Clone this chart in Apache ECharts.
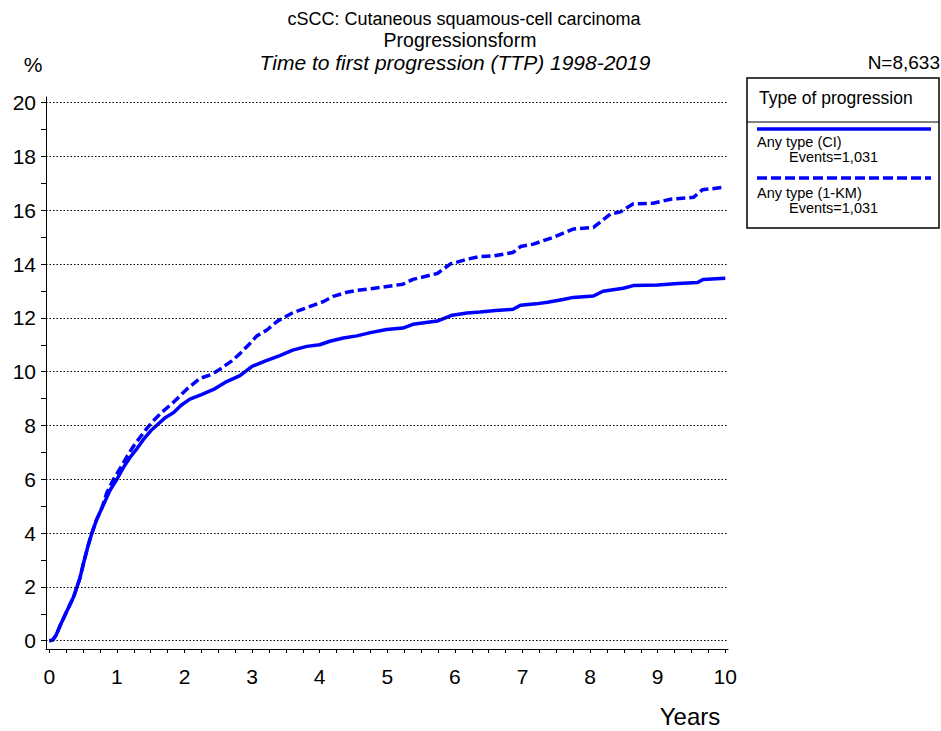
<!DOCTYPE html>
<html>
<head>
<meta charset="utf-8">
<script src="https://cdn.jsdelivr.net/npm/echarts@6/dist/echarts.min.js"></script>
<style>
html,body{margin:0;padding:0;background:#fff;}
#chart{width:941px;height:731px;}
</style>
</head>
<body>
<div id="chart"></div>
<script>
// ---- data (time in years, cumulative % progressed) ----
var ciName = 'Any type (CI)';
var kmName = 'Any type (1-KM)';
var eventsText = 'Events=1,031';

var ciTime = [0,0.05,0.1,0.16,0.25,0.36,0.45,0.5,0.57,0.63,0.7,0.78,0.9,1.0,1.1,1.19,1.3,1.39,1.5,1.59,1.72,1.84,1.95,2.08,2.25,2.43,2.6,2.82,3.0,3.2,3.41,3.6,3.81,4.0,4.15,4.35,4.55,4.75,4.99,5.23,5.38,5.74,5.96,6.18,6.37,6.6,6.86,6.97,7.2,7.37,7.6,7.75,8.05,8.19,8.49,8.64,9.0,9.3,9.59,9.67,10.0];
var ciValue = [0,0.02,0.2,0.56,1.05,1.63,2.3,2.82,3.5,4.0,4.5,4.94,5.6,6.0,6.45,6.8,7.15,7.47,7.8,8.01,8.3,8.48,8.75,8.98,9.15,9.34,9.6,9.85,10.2,10.4,10.6,10.8,10.94,11.0,11.13,11.25,11.33,11.45,11.57,11.62,11.76,11.88,12.1,12.18,12.22,12.27,12.32,12.47,12.52,12.58,12.68,12.76,12.81,12.99,13.1,13.2,13.22,13.28,13.31,13.43,13.47];

var kmTime = [0,0.05,0.1,0.16,0.25,0.36,0.45,0.5,0.57,0.63,0.7,0.78,0.85,0.95,1.05,1.15,1.24,1.34,1.44,1.55,1.66,1.84,2.03,2.23,2.4,2.53,2.7,2.82,2.95,3.07,3.22,3.37,3.61,3.91,4.05,4.2,4.4,4.55,4.75,4.89,5.23,5.38,5.74,5.93,6.18,6.37,6.57,6.86,6.97,7.16,7.45,7.75,8.05,8.15,8.3,8.45,8.64,8.93,9.19,9.53,9.66,9.97,10.0];
var kmValue = [0,0.02,0.2,0.56,1.05,1.63,2.3,2.82,3.5,4.0,4.5,4.94,5.5,6.0,6.41,6.85,7.21,7.55,7.88,8.2,8.48,8.87,9.34,9.75,9.9,10.1,10.4,10.67,11.0,11.33,11.55,11.87,12.2,12.47,12.6,12.8,12.95,13.02,13.08,13.13,13.25,13.43,13.65,14.0,14.18,14.28,14.3,14.43,14.65,14.74,14.99,15.3,15.36,15.56,15.86,15.94,16.24,16.26,16.41,16.48,16.76,16.85,16.85];

var yLabelVals = [0,2,4,6,8,10,12,14,16,18,20];
var yTickVals = [0,1,2,3,4,5,6,7,8,9,10,11,12,13,14,15,16,17,18,19,20];
var xLabelVals = [0,1,2,3,4,5,6,7,8,9,10];
var xTickVals = [0,0.25,0.5,0.75,1,1.25,1.5,1.75,2,2.25,2.5,2.75,3,3.25,3.5,3.75,4,4.25,4.5,4.75,5,5.25,5.5,5.75,6,6.25,6.5,6.75,7,7.25,7.5,7.75,8,8.25,8.5,8.75,9,9.25,9.5,9.75,10];

var titleLines = ['cSCC: Cutaneous squamous-cell carcinoma','Progressionsform','Time to first progression (TTP) 1998-2019'];
var legendTitle = 'Type of progression';
var nText = 'N=8,633';
var yName = '%';
var xName = 'Years';

// ---- chart ----
function pairs(t, v){ return t.map(function(x,i){ return [x, v[i]]; }); }
var FONT = '"Liberation Sans", Arial, sans-serif';
var BLUE = '#0000FF';

var chart = echarts.init(document.getElementById('chart'), null, {renderer:'svg'});
chart.setOption({
  animation:false,
  backgroundColor:'#fff',
  grid:{left:46,right:213,top:97,bottom:82,containLabel:false},
  xAxis:{
    type:'value', min:-0.049, max:10.04,
    axisLine:{show:true,onZero:false,lineStyle:{color:'#000',width:1}},
    axisTick:{show:true,customValues:xTickVals,length:4,lineStyle:{color:'#000',width:1}},
    axisLabel:{show:true,customValues:xLabelVals,margin:17,fontSize:21,color:'#000',fontFamily:FONT},
    splitLine:{show:false}
  },
  yAxis:{
    type:'value', min:-0.31, max:20.21,
    axisLine:{show:true,onZero:false,lineStyle:{color:'#000',width:1}},
    axisTick:{show:true,customValues:yTickVals,length:5,lineStyle:{color:'#000',width:1}},
    axisLabel:{show:true,customValues:yLabelVals,margin:10,fontSize:21,color:'#000',fontFamily:FONT},
    splitLine:{show:false}
  },
  series:[
    {
      type:'line', name:'grid', data:[], silent:true, z:1,
      markLine:{
        silent:true, symbol:['none','none'], animation:false,
        label:{show:false},
        lineStyle:{color:'#000',width:1.2,type:[1.5,2]},
        data:yLabelVals.map(function(v){ return {yAxis:v}; })
      }
    },
    {
      type:'line', name:ciName, data:pairs(ciTime,ciValue), showSymbol:false, z:3,
      lineStyle:{color:BLUE,width:3.5,type:'solid'}, itemStyle:{color:BLUE}
    },
    {
      type:'line', name:kmName, data:pairs(kmTime,kmValue), showSymbol:false, z:3,
      lineStyle:{color:BLUE,width:3.5,type:[9,4]}, itemStyle:{color:BLUE}
    }
  ],
  graphic:[
    {type:'text',x:464,y:19,style:{text:titleLines[0],font:'18px '+FONT,fill:'#000',textAlign:'center',textVerticalAlign:'middle'}},
    {type:'text',x:460,y:40,style:{text:titleLines[1],font:'19.5px '+FONT,fill:'#000',textAlign:'center',textVerticalAlign:'middle'}},
    {type:'text',x:455,y:62,style:{text:titleLines[2],font:'italic 21px '+FONT,fill:'#000',textAlign:'center',textVerticalAlign:'middle'}},
    {type:'text',x:33,y:64,style:{text:yName,font:'21px '+FONT,fill:'#000',textAlign:'center',textVerticalAlign:'middle'}},
    {type:'text',x:940,y:62,style:{text:nText,font:'19px '+FONT,fill:'#000',textAlign:'right',textVerticalAlign:'middle'}},
    {type:'text',x:690,y:716,style:{text:xName,font:'24px '+FONT,fill:'#000',textAlign:'center',textVerticalAlign:'middle'}},
    {type:'rect',shape:{x:747,y:78,width:192,height:150},style:{fill:'#fff',stroke:'#000',lineWidth:1.5}},
    {type:'line',shape:{x1:747,y1:122,x2:939,y2:122},style:{stroke:'#000',lineWidth:1}},
    {type:'text',x:759,y:98,style:{text:legendTitle,font:'17.5px '+FONT,fill:'#000',textAlign:'left',textVerticalAlign:'middle'}},
    {type:'line',shape:{x1:757,y1:129,x2:931,y2:129},style:{stroke:BLUE,lineWidth:3.5}},
    {type:'text',x:757,y:142,style:{text:ciName,font:'14.5px '+FONT,fill:'#000',textAlign:'left',textVerticalAlign:'middle'}},
    {type:'text',x:789,y:157,style:{text:eventsText,font:'14.5px '+FONT,fill:'#000',textAlign:'left',textVerticalAlign:'middle'}},
    {type:'line',shape:{x1:757,y1:178,x2:931,y2:178},style:{stroke:BLUE,lineWidth:3.5,lineDash:[10,4]}},
    {type:'text',x:757,y:193,style:{text:kmName,font:'14.5px '+FONT,fill:'#000',textAlign:'left',textVerticalAlign:'middle'}},
    {type:'text',x:789,y:208,style:{text:eventsText,font:'14.5px '+FONT,fill:'#000',textAlign:'left',textVerticalAlign:'middle'}}
  ]
});
</script>
</body>
</html>
